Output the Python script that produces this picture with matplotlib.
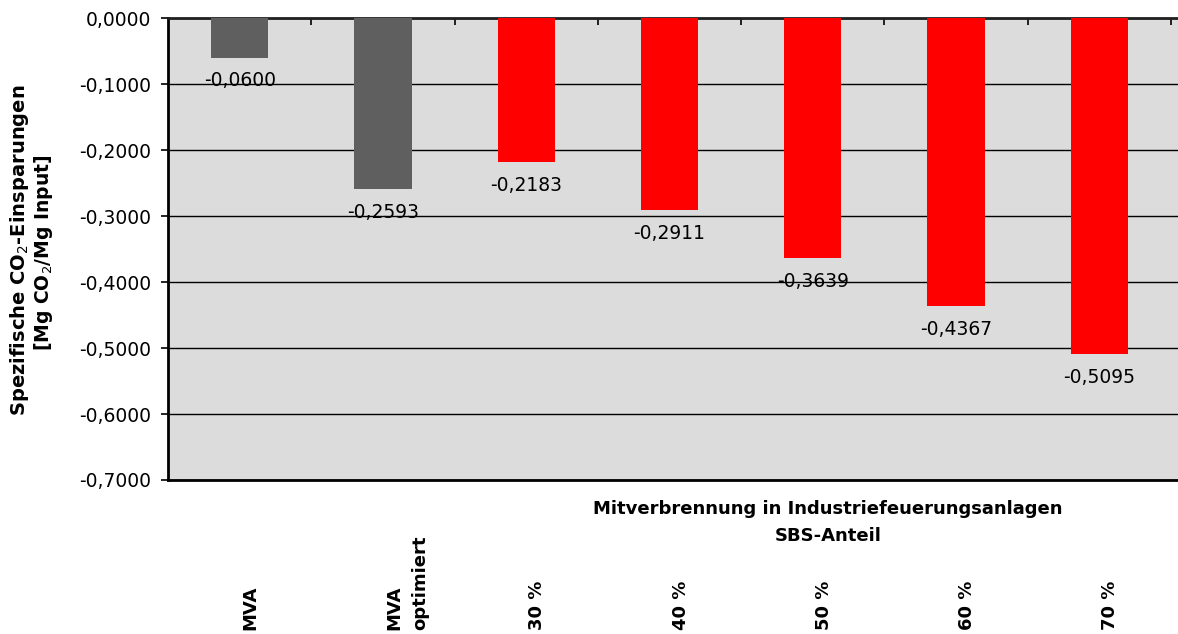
import matplotlib.pyplot as plt
from matplotlib.ticker import FuncFormatter, FixedLocator
import matplotlib.transforms as mtransforms

plt.rcParams['font.family'] = ['DejaVu Sans']

# Spezifische CO2-Einsparungen je Variante
categories = ['MVA', 'MVA\noptimiert', '30 %', '40 %', '50 %', '60 %', '70 %']
values = [-0.0600, -0.2593, -0.2183, -0.2911, -0.3639, -0.4367, -0.5095]
colors = ['#5f5f5f', '#5f5f5f', '#ff0000', '#ff0000', '#ff0000', '#ff0000', '#ff0000']
yticks = [0.0, -0.1, -0.2, -0.3, -0.4, -0.5, -0.6, -0.7]


def de_num(v):
    s = f'{v:.4f}'.replace('.', ',')
    return '0,0000' if s == '-0,0000' else s


fig = plt.figure(figsize=(11.78, 6.34), dpi=100)
ax = fig.add_axes([168 / 1178, 1 - 480 / 634, 1 - 168 / 1178, (480 - 18) / 634])
ax.set_facecolor('#dcdcdc')

x = [i + 0.5 for i in range(len(values))]
ax.bar(x, values, width=0.4, color=colors, zorder=3)

ax.set_xlim(0, 7.05)
ax.set_ylim(-0.7, 0.0)

# Gitternetz
ax.set_yticks(yticks)
ax.yaxis.grid(True, color='black', linewidth=1.0, zorder=1)
ax.yaxis.set_major_formatter(FuncFormatter(lambda v, p: de_num(v)))
ax.tick_params(axis='y', direction='out', length=5, width=1.2, labelsize=13.5, pad=7)

# Rubrikenachse oben an der Nulllinie, Markierungen zwischen den Kategorien
ax.xaxis.set_ticks_position('top')
ax.xaxis.set_major_locator(FixedLocator(range(1, 8)))
ax.tick_params(axis='x', direction='in', length=5, width=1.2, labeltop=False, labelbottom=False)

for side in ['left', 'bottom']:
    ax.spines[side].set_linewidth(2)
ax.spines['top'].set_linewidth(2)
ax.spines['top'].set_color('#202020')
ax.spines['right'].set_visible(False)

# Wertebeschriftungen
for xi, v in zip(x, values):
    ax.annotate(de_num(v), (xi, v), xytext=(0, -10), textcoords='offset points',
                ha='center', va='top', fontsize=13.5, zorder=4)

# Kategorienbeschriftungen unten, senkrecht
trans = mtransforms.blended_transform_factory(ax.transData, fig.transFigure)
for xi, lab in zip(x, categories):
    ax.text(xi + 0.015, 1 - 630 / 634, lab, transform=trans, rotation=90, ha='left', va='bottom',
            fontsize=13, fontweight='bold', linespacing=1.6, multialignment='left')

fig.text(828 / 1178, 1 - 509 / 634, 'Mitverbrennung in Industriefeuerungsanlagen',
         ha='center', va='center', fontsize=13, fontweight='bold')
fig.text(828 / 1178, 1 - 536 / 634, 'SBS-Anteil',
         ha='center', va='center', fontsize=13, fontweight='bold')

fig.text(20 / 1178, 1 - 250 / 634, 'Spezifische CO$_2$-Einsparungen',
         rotation=90, ha='center', va='center', fontsize=14, fontweight='bold')
fig.text(44 / 1178, 1 - 253 / 634, '[Mg CO$_2$/Mg Input]',
         rotation=90, ha='center', va='center', fontsize=13.5, fontweight='bold')

fig.savefig('out.png', dpi=100)
